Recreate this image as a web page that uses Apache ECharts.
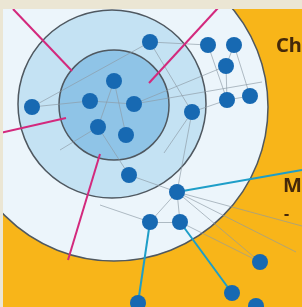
<!DOCTYPE html>
<html>
<head>
<meta charset="utf-8">
<script src="https://cdn.jsdelivr.net/npm/echarts@6/dist/echarts.min.js"></script>
<style>
  html, body { margin: 0; padding: 0; background: #ebe6d4; }
  #main { width: 302px; height: 307px; }
</style>
</head>
<body>
<div id="main"></div>
<script>
// rings: centre x, centre y, radius (in picture units)
var ringX = [114, 112, 114];
var ringY = [107, 104, 105];
var ringR = [154, 94, 55];
var ringFill = ['#ecf5fb', '#c4e2f3', '#8fc4e7'];

// nodes of the network
var nodeX = [150, 208, 234, 226, 227, 250, 192, 32, 114, 90, 134, 98, 126, 129, 177, 150, 180, 260, 232, 138, 256];
var nodeY = [42, 45, 45, 66, 100, 96, 112, 107, 81, 101, 104, 127, 135, 175, 192, 222, 222, 262, 293, 303, 306];

// grey links between nodes (node index pairs)
var greyLinks = [
  [7, 9], [7, 0], [0, 1], [1, 4], [2, 5], [3, 4], [4, 5], [2, 3], [6, 4], [0, 6],
  [10, 3], [13, 14], [14, 15], [14, 16], [15, 16], [16, 17], [14, 17], [11, 13], [6, 14]
];
// grey links running to free points
var greyFree = [
  [[177, 192], [302, 226]], [[177, 192], [296, 252]], [[134, 104], [262, 82]],
  [[150, 222], [100, 205]], [[192, 112], [164, 153]], [[98, 127], [60, 150]],
  [[114, 81], [126, 135]], [[90, 101], [134, 104]], [[98, 127], [114, 81]]
];
// magenta spokes
var pinkLines = [
  [[13, 9], [72, 71]], [[0, 133], [66, 118]], [[218, 8], [149, 83]], [[100, 154], [68, 260]]
];
// cyan links
var cyanLines = [
  [[177, 192], [302, 170]], [[150, 222], [138, 303]], [[180, 222], [232, 293]]
];

var chart = echarts.init(document.getElementById('main'));

var nodes = [];
for (var i = 0; i < nodeX.length; i++) nodes.push([nodeX[i], nodeY[i]]);
var rings = [];
for (var j = 0; j < ringX.length; j++) rings.push([ringX[j], ringY[j], ringR[j]]);
var grey = greyLinks.map(function (l) { return { coords: [nodes[l[0]], nodes[l[1]]] }; })
  .concat(greyFree.map(function (c) { return { coords: c }; }));

chart.setOption({
  backgroundColor: '#f8b519',
  animation: false,
  grid: { left: 0, right: 0, top: 0, bottom: 0 },
  xAxis: { type: 'value', min: 0, max: 302, show: false },
  yAxis: { type: 'value', min: 0, max: 307, inverse: true, show: false },
  graphic: [
    { type: 'rect', z: 100, shape: { x: 0, y: 0, width: 302, height: 9 }, style: { fill: '#ebe6d4' } },
    { type: 'rect', z: 100, shape: { x: 0, y: 0, width: 3, height: 307 }, style: { fill: '#ebe6d4' } },
    { type: 'text', z: 50, x: 276, y: 36, style: { text: 'Ch', font: 'bold 20px "Noto Sans"', fill: '#45290a' } },
    { type: 'text', z: 50, x: 283, y: 176, style: { text: 'M', font: 'bold 20px "Noto Sans"', fill: '#45290a' } },
    { type: 'text', z: 50, x: 284, y: 206, style: { text: '-', font: 'bold 16px "Noto Sans"', fill: '#45290a' } }
  ],
  series: [
    {
      type: 'custom',
      z: 1,
      data: rings,
      renderItem: function (params, api) {
        var c = api.coord([api.value(0), api.value(1)]);
        var r = api.size([api.value(2), 0])[0];
        return {
          type: 'circle',
          shape: { cx: c[0], cy: c[1], r: r },
          style: { fill: ringFill[params.dataIndex], stroke: '#4f5860', lineWidth: 1.5 }
        };
      }
    },
    {
      type: 'lines',
      coordinateSystem: 'cartesian2d',
      z: 2,
      lineStyle: { color: '#8c9aa4', width: 1, opacity: 0.65 },
      data: grey
    },
    {
      type: 'lines',
      coordinateSystem: 'cartesian2d',
      z: 3,
      lineStyle: { color: '#d3297d', width: 2, opacity: 1 },
      data: pinkLines.map(function (c) { return { coords: c }; })
    },
    {
      type: 'lines',
      coordinateSystem: 'cartesian2d',
      z: 3,
      lineStyle: { color: '#1e9ec8', width: 2, opacity: 1 },
      data: cyanLines.map(function (c) { return { coords: c }; })
    },
    {
      type: 'scatter',
      z: 4,
      symbolSize: 16,
      itemStyle: { color: '#1769b2', opacity: 1 },
      data: nodes
    }
  ]
});
</script>
</body>
</html>
